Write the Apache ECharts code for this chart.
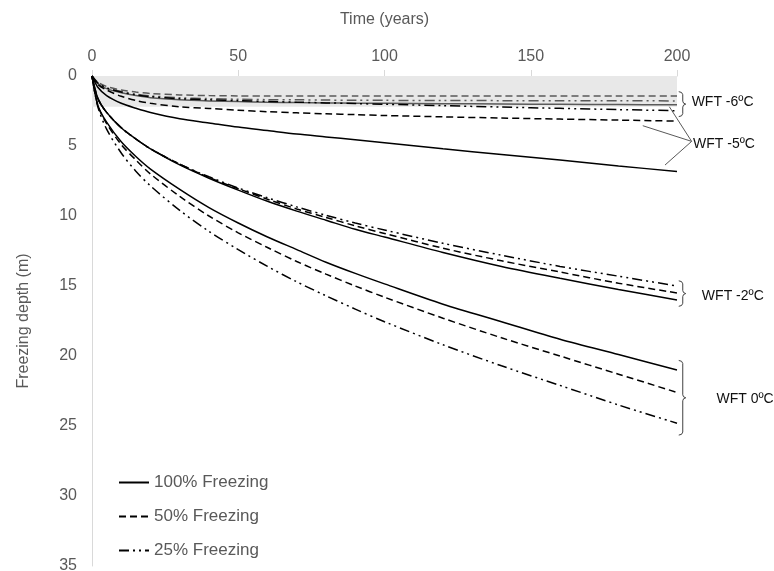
<!DOCTYPE html>
<html><head><meta charset="utf-8">
<script src="https://cdn.jsdelivr.net/npm/echarts@6/dist/echarts.min.js"></script>
<style>html,body{margin:0;padding:0;background:#fff}#c{width:774px;height:571px}</style>
</head><body><div id="c"></div>
<script>
// ---- data (time in years, freezing depth in m) ----
const years = [0, 2, 5, 10, 15, 20, 30, 40, 50, 60, 70, 80, 90, 100, 120, 140, 160, 180, 200];

const wft0_100 = [0, 2.1, 3.3, 4.7, 5.75, 6.65, 8.1, 9.4, 10.5, 11.5, 12.4, 13.3, 14.1, 14.85, 16.3, 17.55, 18.8, 19.9, 21.0];
const wft0_50  = [0, 2.1, 3.4, 4.9, 6.0, 7.0, 8.6, 10.0, 11.2, 12.25, 13.25, 14.15, 15.0, 15.8, 17.3, 18.7, 20.0, 21.3, 22.6];
const wft0_25  = [0, 2.2, 3.8, 5.5, 6.8, 7.85, 9.6, 11.1, 12.4, 13.6, 14.7, 15.7, 16.65, 17.55, 19.2, 20.7, 22.1, 23.5, 24.8];

const wftm2_100 = [0, 1.6, 2.6, 3.7, 4.5, 5.2, 6.35, 7.3, 8.15, 8.95, 9.65, 10.3, 10.95, 11.5, 12.6, 13.6, 14.45, 15.25, 16.0];
const wftm2_50  = [0, 1.6, 2.6, 3.7, 4.5, 5.2, 6.3, 7.25, 8.05, 8.8, 9.5, 10.1, 10.7, 11.25, 12.3, 13.2, 14.0, 14.8, 15.5];
const wftm2_25  = [0, 1.6, 2.6, 3.7, 4.5, 5.2, 6.3, 7.2, 8.0, 8.7, 9.35, 9.95, 10.5, 11.0, 11.95, 12.8, 13.6, 14.3, 15.0];

const wftm5_100 = [0, 0.8, 1.4, 1.95, 2.3, 2.6, 3.05, 3.35, 3.65, 3.9, 4.15, 4.35, 4.55, 4.76, 5.2, 5.6, 6.0, 6.42, 6.83];
const wftm5_50  = [0, 0.6, 1.0, 1.45, 1.75, 1.95, 2.2, 2.32, 2.45, 2.55, 2.63, 2.7, 2.76, 2.82, 2.92, 3.0, 3.08, 3.15, 3.22];
const wftm5_25  = [0, 0.5, 0.85, 1.15, 1.35, 1.48, 1.62, 1.7, 1.76, 1.82, 1.87, 1.92, 1.97, 2.02, 2.12, 2.22, 2.31, 2.4, 2.48];

const wftm6_100 = [0, 0.55, 0.9, 1.2, 1.4, 1.55, 1.7, 1.78, 1.83, 1.87, 1.9, 1.92, 1.94, 1.95, 1.98, 2.0, 2.02, 2.04, 2.05];
const wftm6_50  = [0, 0.45, 0.75, 1.0, 1.15, 1.25, 1.35, 1.4, 1.42, 1.43, 1.43, 1.43, 1.43, 1.43, 1.43, 1.42, 1.42, 1.42, 1.42];
const wftm6_25  = [0, 0.5, 0.85, 1.1, 1.3, 1.42, 1.55, 1.62, 1.66, 1.69, 1.7, 1.72, 1.73, 1.74, 1.75, 1.76, 1.77, 1.77, 1.78];

const xTicks = [0, 50, 100, 150, 200];
const yTicks = [0, 5, 10, 15, 20, 25, 30, 35];
const shadedBand = [0, 2.2];

const legendNames = ['100% Freezing', '50% Freezing', '25% Freezing'];

// ---- styles ----
const FONT = "'Liberation Sans', Arial, sans-serif";
const dashStyles = { '100': 'solid', '50': [7, 4], '25': [10, 4, 2, 4, 2, 4] };
const BLACK = '#000000', GRAY = '#5a5a5a';

function pts(vals) { return years.map((y, i) => [y, vals[i]]); }
function mk(name, vals, kind, color) {
  return {
    name: name, type: 'line', data: pts(vals), symbol: 'none', smooth: 0.3,
    lineStyle: { color: color, width: 1.5, type: dashStyles[kind] },
    itemStyle: { color: color }, z: 3, silent: true
  };
}

const series = [
  {
    name: 'band', type: 'line', data: [], z: 1, silent: true,
    markArea: {
      silent: true, itemStyle: { color: '#e8e8e8' },
      data: [[{ xAxis: xTicks[0], yAxis: shadedBand[0] }, { xAxis: xTicks[xTicks.length - 1], yAxis: shadedBand[1] }]]
    }
  },
  mk('WFT -6 100', wftm6_100, '100', GRAY),
  mk('WFT -6 50', wftm6_50, '50', GRAY),
  mk('WFT -6 25', wftm6_25, '25', GRAY),
  mk('WFT -5 100', wftm5_100, '100', BLACK),
  mk('WFT -5 50', wftm5_50, '50', BLACK),
  mk('WFT -5 25', wftm5_25, '25', BLACK),
  mk('WFT -2 100', wftm2_100, '100', BLACK),
  mk('WFT -2 50', wftm2_50, '50', BLACK),
  mk('WFT -2 25', wftm2_25, '25', BLACK),
  mk(legendNames[0], wft0_100, '100', BLACK),
  mk(legendNames[1], wft0_50, '50', BLACK),
  mk(legendNames[2], wft0_25, '25', BLACK)
];

const chart = echarts.init(document.getElementById('c'), null, { renderer: 'canvas' });
chart.setOption({
  animation: false,
  backgroundColor: '#ffffff',
  textStyle: { fontFamily: FONT },
  grid: { left: 92, top: 76, right: 97, bottom: 5, containLabel: false, outerBoundsMode: 'none' },
  legend: {
    data: legendNames, orient: 'vertical', left: 118, top: 474,
    itemWidth: 30, itemHeight: 14, itemGap: 17, padding: 0,
    itemStyle: { opacity: 0, borderWidth: 0 },
    textStyle: { fontFamily: FONT, fontSize: 17, color: '#595959' },
    selectedMode: false
  },
  xAxis: {
    type: 'value', position: 'top', min: xTicks[0], max: xTicks[xTicks.length - 1], interval: 50,
    name: 'Time (years)', nameLocation: 'middle', nameGap: 48,
    nameTextStyle: { fontFamily: FONT, fontSize: 16, color: '#595959' },
    axisLine: { show: true, lineStyle: { color: '#d9d9d9', width: 1 } },
    axisTick: { show: true, length: 6, lineStyle: { color: '#d9d9d9' } },
    axisLabel: { fontFamily: FONT, fontSize: 16, color: '#595959', margin: 11 },
    splitLine: { show: false }
  },
  yAxis: {
    type: 'value', inverse: true, min: yTicks[0], max: yTicks[yTicks.length - 1], interval: 5,
    name: 'Freezing depth (m)', nameLocation: 'middle', nameGap: 60, nameRotate: 90,
    nameTextStyle: { fontFamily: FONT, fontSize: 16, color: '#595959' },
    axisLine: { show: true, lineStyle: { color: '#d9d9d9', width: 1 } },
    axisTick: { show: false },
    axisLabel: { fontFamily: FONT, fontSize: 16, color: '#595959', margin: 15 },
    splitLine: { show: false }
  },
  series: series
});

// ---- annotations positioned in data coordinates ----
function P(t, d) { return chart.convertToPixel({ gridIndex: 0 }, [t, d]); }
function brace(t, d1, d2) {
  const a = P(t, d1), b = P(t, d2);
  const xL = a[0], xV = xL + 4, xM = xV + 3, top = a[1], bot = b[1], mid = (top + bot) / 2;
  const p = [[xL, top], [xV - 1.2, top + 0.8], [xV, top + 3], [xV, mid - 3], [xV + 0.8, mid - 1], [xM, mid],
             [xV + 0.8, mid + 1], [xV, mid + 3], [xV, bot - 3], [xV - 1.2, bot - 0.8], [xL, bot]];
  return { type: 'polyline', silent: true, shape: { points: p }, style: { fill: null, stroke: '#404040', lineWidth: 1 } };
}
function label(t, d, text) {
  const p = P(t, d);
  return { type: 'text', silent: true, x: p[0], y: p[1],
    style: { text: text, font: '14px ' + FONT, fill: '#111', verticalAlign: 'middle', align: 'left' } };
}
function seg(t1, d1, t2, d2) {
  const a = P(t1, d1), b = P(t2, d2);
  return { type: 'line', silent: true, shape: { x1: a[0], y1: a[1], x2: b[0], y2: b[1] }, style: { stroke: '#595959', lineWidth: 1 } };
}
const g = [
  brace(200.6, 1.12, 2.9), label(205, 1.9, 'WFT -6ºC'),
  seg(205, 4.67, 197, 2.07), seg(205, 4.67, 188.3, 3.55), seg(205, 4.67, 195.9, 6.36),
  label(205.5, 4.85, 'WFT -5ºC'),
  brace(200.6, 14.63, 16.45), label(208.5, 15.75, 'WFT -2ºC'),
  brace(200.6, 20.32, 25.65), label(213.5, 23.1, 'WFT 0ºC')
];
chart.setOption({ graphic: g });
</script></body></html>
